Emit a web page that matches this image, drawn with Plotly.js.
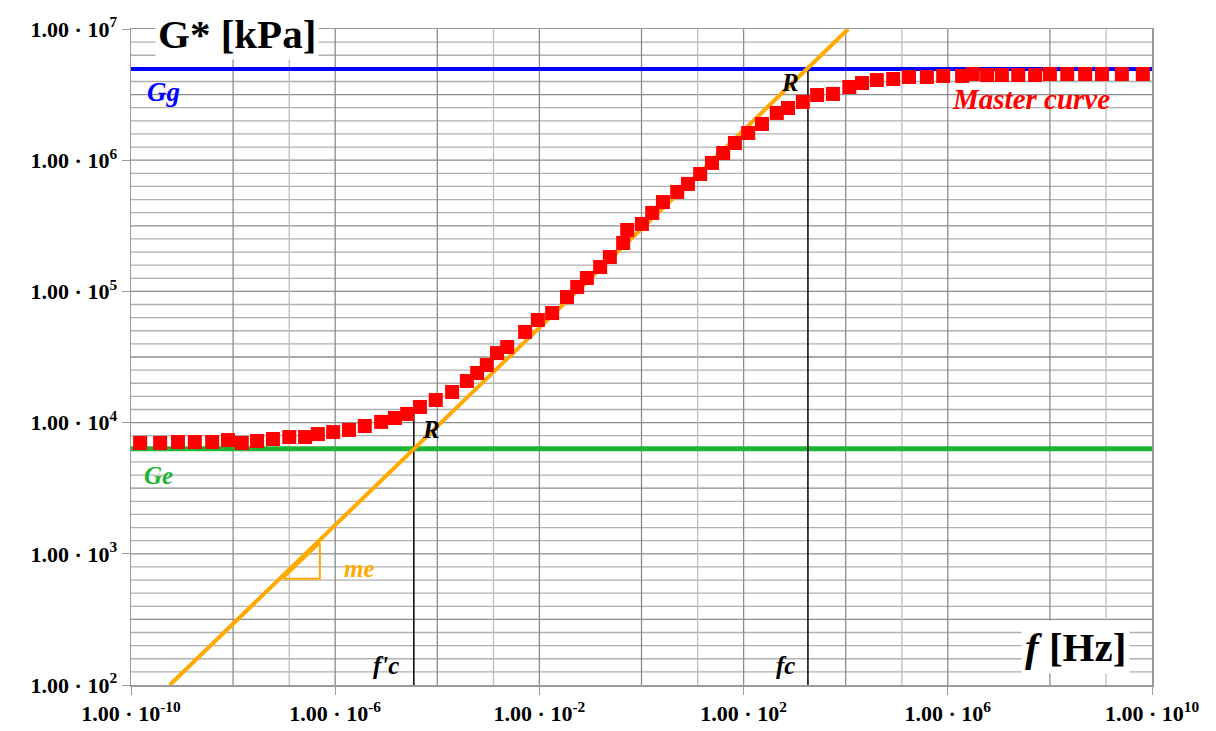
<!DOCTYPE html>
<html>
<head>
<meta charset="utf-8">
<script src="https://cdn.plot.ly/plotly-3.0.1.min.js"></script>
<style>html,body{margin:0;padding:0;background:#fff;}#chart{width:1216px;height:731px;}</style>
</head>
<body>
<div id="chart"></div>
<script>
// Master curve: frequency [Hz] and |G*| [kPa]
const freq = [1.51e-10,3.72e-10,8.32e-10,1.78e-9,3.89e-9,7.94e-9,1.48e-8,2.95e-8,6.03e-8,1.26e-7,
  2.57e-7,4.57e-7,9.12e-7,1.86e-6,3.80e-6,7.94e-6,1.48e-5,2.57e-5,4.57e-5,9.33e-5,
  1.95e-4,3.80e-4,6.03e-4,9.33e-4,1.48e-3,2.34e-3,5.25e-3,9.33e-3,1.78e-2,3.47e-2,
  5.50e-2,8.51e-2,0.155,0.240,0.437,0.525,1.02,1.62,2.63,5.01,
  8.13,14.1,24.0,39.8,67.6,123,229,447,741,1445,
  2754,5623,11750,20890,40740,85110,173800,389000,812800,1.905e6,
  3.09e6,5.89e6,1.148e7,2.399e7,5.129e7,1.0e8,2.188e8,4.898e8,1.047e9,2.57e9,6.61e9];
const gStar = [7000,7000,7110,7110,7110,7360,7000,7240,7500,7760,
  7760,8180,8470,8790,9420,10120,10840,11640,13150,14860,
  17100,20750,23880,27480,33880,37670,49090,60530,68390,90570,
  108100,126500,153500,182800,233900,293800,326600,396300,479700,572800,
  659200,785200,952800,1.135e6,1.352e6,1.611e6,1.888e6,2.291e6,2.500e6,2.780e6,
  3.141e6,3.199e6,3.614e6,3.873e6,4.083e6,4.159e6,4.305e6,4.305e6,4.385e6,4.385e6,
  4.539e6,4.457e6,4.457e6,4.457e6,4.457e6,4.539e6,4.539e6,4.539e6,4.539e6,4.539e6,4.539e6];

// Asymptotes
const Gg = 4.95e6;      // glassy modulus
const Ge = 6310;        // equilibrium modulus
const fRange = [1e-10, 1e10];
// Low-frequency asymptote (slope me) end points
const meLineF = [5.75e-10, 1.12e4];
const meLineG = [1e2, 1e7];
// Slope triangle
const triF = [9.55e-8, 5.01e-7, 5.01e-7, 9.55e-8];
const triG = [646, 646, 1202, 646];
// Crossover frequencies
const fcPrime = 3.47e-5, fcPrimeTop = 12250;
const fc = 1820;

const xTickVals = [1e-10,1e-6,1e-2,1e2,1e6,1e10];
const xTickText = ['-10','-6','-2','2','6','10'].map(e => '1.00 · 10<sup>' + e + '</sup>');
const yTickVals = [1e2,1e3,1e4,1e5,1e6,1e7];
const yTickText = ['2','3','4','5','6','7'].map(e => '1.00 · 10<sup>' + e + '</sup>');

// Grid lines (paper coordinates)
const shapes = [];
for (let d = 2; d < 7; d++) {
  for (let j = 0; j < 10; j++) {
    if (d === 2 && j === 0) continue;
    const yy = (d + j / 10 - 2) / 5;
    shapes.push({type:'line', xref:'paper', yref:'paper', x0:0, x1:1, y0:yy, y1:yy, layer:'below',
      line:{color: (j === 0 || j === 5) ? '#8c8c8c' : '#b0b0b0', width: 1.3}});
  }
}
for (let m = -10; m < 10; m += 4) {
  [[0,'#8c8c8c'],[2,'#8c8c8c'],[3.1,'#bdbdbd']].forEach(([off, col]) => {
    if (m === -10 && off === 0) return;
    const xx = (m + off + 10) / 20;
    shapes.push({type:'line', xref:'paper', yref:'paper', x0:xx, x1:xx, y0:0, y1:1, layer:'below',
      line:{color: col, width: 1.3}});
  });
}

const traces = [
  {x: fRange, y: [Gg, Gg], mode:'lines', line:{color:'#0000ff', width:4}, hoverinfo:'skip'},
  {x: fRange, y: [Ge, Ge], mode:'lines', line:{color:'#1db436', width:5}, hoverinfo:'skip'},
  {x: [fcPrime, fcPrime], y: [1e2, fcPrimeTop], mode:'lines', line:{color:'#000', width:1.5}, hoverinfo:'skip'},
  {x: [fc, fc], y: [1e2, Gg], mode:'lines', line:{color:'#000', width:1.5}, hoverinfo:'skip'},
  {x: meLineF, y: meLineG, mode:'lines', line:{color:'#ffaa00', width:4}, hoverinfo:'skip'},
  {x: triF, y: triG, mode:'lines', line:{color:'#ffaa00', width:2}, hoverinfo:'skip'},
  {x: freq, y: gStar, mode:'markers', marker:{symbol:'square', size:14, color:'#ff0000', line:{width:0}}, name:'Master curve'}
];

const serif = 'Liberation Serif, Times New Roman, serif';
function ann(text, x, y, size, color, italic, extra) {
  return Object.assign({text, x, y, xref:'paper', yref:'paper', xanchor:'center', yanchor:'middle',
    showarrow:false, font:{family:serif, size, color, weight:'bold', style: italic ? 'italic' : 'normal'}}, extra || {});
}
const annotations = [
  ann('G* [kPa]', 0.104, 0.992, 41, '#000', false, {bgcolor:'#fff', borderpad:2}),
  ann('Gg', 0.032, 0.904, 27, '#0000ff', true),
  ann('Ge', 0.027, 0.320, 25, '#1db436', true),
  ann('me', 0.224, 0.178, 25, '#ffaa00', true),
  ann('R', 0.294, 0.389, 25, '#000', true),
  ann('R', 0.645, 0.918, 25, '#000', true),
  ann("f'c", 0.250, 0.030, 25, '#000', true),
  ann('fc', 0.6415, 0.030, 25, '#000', true),
  ann('Master curve', 0.8815, 0.893, 29, '#ff0000', true),
  ann('<i>f</i> [Hz]', 0.9246, 0.058, 41, '#000', false, {bgcolor:'#fff', borderpad:3})
];

const layout = {
  width:1216, height:731,
  margin:{l:131, r:64, t:29, b:46},
  paper_bgcolor:'#fff', plot_bgcolor:'#fff',
  showlegend:false,
  xaxis:{type:'log', range:[-10,10], tickvals:xTickVals, ticktext:xTickText, showgrid:false, zeroline:false,
    showline:true, mirror:true, linecolor:'#9a9a9a', linewidth:1.5, ticks:'outside', ticklen:8, tickcolor:'#9a9a9a',
    tickfont:{family:serif, size:22, color:'#000', weight:'bold'}},
  yaxis:{type:'log', range:[2,7], tickvals:yTickVals, ticktext:yTickText, showgrid:false, zeroline:false,
    showline:true, mirror:true, linecolor:'#9a9a9a', linewidth:1.5, ticks:'outside', ticklen:8, tickcolor:'#9a9a9a',
    tickfont:{family:serif, size:22, color:'#000', weight:'bold'}},
  shapes, annotations
};
Plotly.newPlot('chart', traces, layout, {displayModeBar:false, staticPlot:true});
</script>
</body>
</html>
